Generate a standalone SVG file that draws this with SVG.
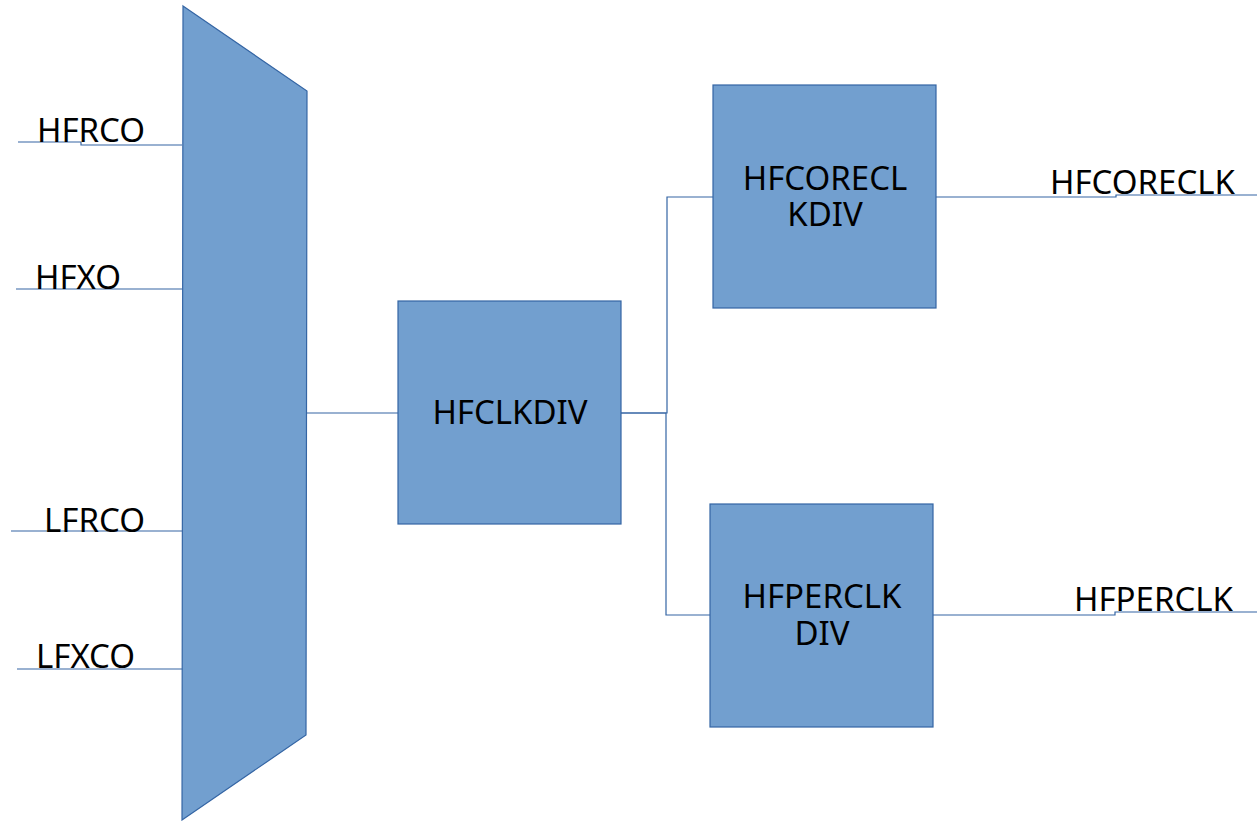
<svg xmlns="http://www.w3.org/2000/svg" width="1257" height="821" viewBox="0 0 1257 821">
<style>
.blk{fill:#729fcf;stroke:#3465a4;stroke-width:1.2}
.ln{fill:none;stroke:#3465a4;stroke-width:1.2}
text{font-family:"Noto Sans","Open Sans",sans-serif;font-size:33px;fill:#000}
.c{text-anchor:middle}
</style>
<rect width="1257" height="821" fill="#fff"/>
<g id="connectors">
<polyline class="ln" points="18,142 81,142 81,145 182,145"/>
<line class="ln" x1="16" y1="289" x2="182" y2="289"/>
<line class="ln" x1="11" y1="531" x2="182" y2="531"/>
<line class="ln" x1="17" y1="669" x2="188" y2="669"/>
<line class="ln" x1="307" y1="413" x2="398" y2="413"/>
<polyline class="ln" points="621,413 667,413 667,197 713,197"/>
<polyline class="ln" points="621,413 666,413 666,615 710,615"/>
<polyline class="ln" points="936,197 1116,197 1116,195 1257,195"/>
<polyline class="ln" points="933,615 1115,615 1115,612 1257,612"/>
</g>
<g id="mux">
<polygon class="blk" points="183,6 307,91 306,735 182,820"/>
</g>
<g id="labels-in">
<text x="37" y="142">HFRCO</text>
<text x="35" y="289">HFXO</text>
<text x="44" y="532">LFRCO</text>
<text x="36" y="668">LFXCO</text>
</g>
<g id="hfclkdiv">
<rect class="blk" x="398" y="301" width="223" height="223"/>
<text class="c" x="510" y="424">HFCLKDIV</text>
</g>
<g id="hfcoreclkdiv">
<rect class="blk" x="713" y="85" width="223" height="223"/>
<text class="c" x="825" y="190">HFCORECL</text>
<text class="c" x="825" y="226">KDIV</text>
</g>
<g id="hfperclkdiv">
<rect class="blk" x="710" y="504" width="223" height="223"/>
<text class="c" x="822" y="608">HFPERCLK</text>
<text class="c" x="822" y="645">DIV</text>
</g>
<g id="labels-out">
<text x="1050" y="194">HFCORECLK</text>
<text x="1074" y="611">HFPERCLK</text>
</g>
</svg>
